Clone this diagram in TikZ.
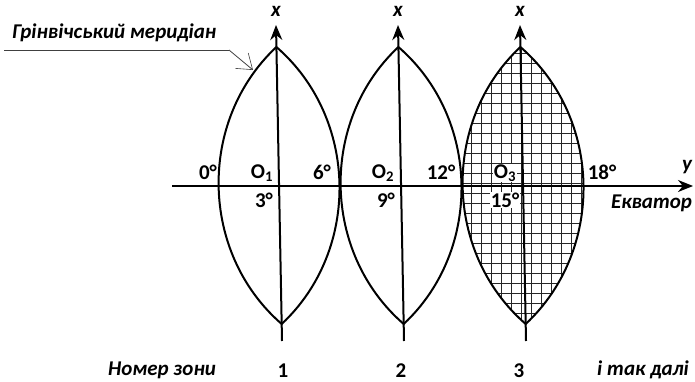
\documentclass[tikz,border=0pt]{standalone}
\usepackage{fontspec}
\setmainfont{Carlito}
\usetikzlibrary{arrows.meta}
\begin{document}
\begin{tikzpicture}[x=1pt,y=-1pt,
  lbl/.style={font=\fontsize{21}{23}\selectfont\bfseries, inner sep=1pt},
  ilbl/.style={font=\fontsize{21}{23}\selectfont\bfseries\itshape, inner sep=1pt},
  wlbl/.style={lbl, fill=white},
  lens/.style={line width=2pt},
  axis/.style={line width=2pt, -{Stealth[length=15pt,width=12pt]}},
  gridln/.style={line width=0.8pt, black!85},
  leader/.style={line width=0.8pt, black!75}]
\useasboundingbox (0,0) rectangle (695,382);
% apexes and axis ends
\coordinate (t1) at (276.4,47); \coordinate (u1) at (281.7,324);
\coordinate (t2) at (398.4,47); \coordinate (u2) at (403.7,324);
\coordinate (t3) at (520.4,47); \coordinate (u3) at (525.7,324);
\coordinate (a1) at (276,25); \coordinate (b1) at (282,341);
\coordinate (a2) at (398,25); \coordinate (b2) at (404,341);
\coordinate (a3) at (520,25); \coordinate (b3) at (526,341);
\coordinate (e0) at (172,186); \coordinate (e1) at (693,186);
% grid in zone 3
\begin{scope}
  \clip (t3) to[bend left=48] (u3) to[bend left=48] (t3) -- cycle;
  \foreach \x in {461.7,471.7,...,591.7} \draw[gridln] (\x,40) -- (\x,330);
  \foreach \y in {43,53,...,333} \draw[gridln] (450,\y) -- (600,\y);
\end{scope}
% lenses
\foreach \i in {1,2,3} {
  \draw[lens] (t\i) to[bend left=48] (u\i) to[bend left=48] (t\i);
}
% axes
\foreach \i in {1,2,3} \draw[axis] (b\i) -- (a\i);
\draw[axis] (e0) -- (e1);
% x labels
\node[ilbl] (x1) at (276,11) {x};
\node[ilbl] (x2) at (398,11) {x};
\node[ilbl] (x3) at (520,11) {x};
\node[ilbl] (ylab) at (687,167) {y};
\node[ilbl, anchor=west] (ekv) at (610,203) {Екватор};
% degree labels
\node[lbl] (d0) at (208,172) {0°};
\node[lbl] (o1) at (262,173) {O\textsubscript{1}};
\node[lbl] (d6) at (322,172) {6°};
\node[lbl] (d3) at (264,200) {3°};
\node[lbl] (o2) at (383,173) {O\textsubscript{2}};
\node[lbl] (d12) at (441,172) {12°};
\node[lbl] (d9) at (386,200) {9°};
\node[wlbl] (o3) at (505,173) {O\textsubscript{3}};
\node[wlbl] (d15) at (505,200) {15°};
\node[lbl] (d18) at (602,172) {18°};
% Greenwich meridian label and leader
\node[ilbl, anchor=west] (gm) at (11,33) {Грінвічський меридіан};
\coordinate (l0) at (4,50); \coordinate (l1) at (229,50); \coordinate (l2) at (253,70);
\draw[leader] (l0) -- (l1);
\draw[leader, -{Straight Barb[length=14pt,width=20pt,line width=0.6pt]}] (l1) -- (l2);
% bottom labels
\node[ilbl] (nz) at (162,370) {Номер зони};
\node[lbl] (n1) at (283,371) {1};
\node[lbl] (n2) at (401,371) {2};
\node[lbl] (n3) at (519,371) {3};
\node[ilbl] (tak) at (643,370) {і так далі};
\end{tikzpicture}
\end{document}
